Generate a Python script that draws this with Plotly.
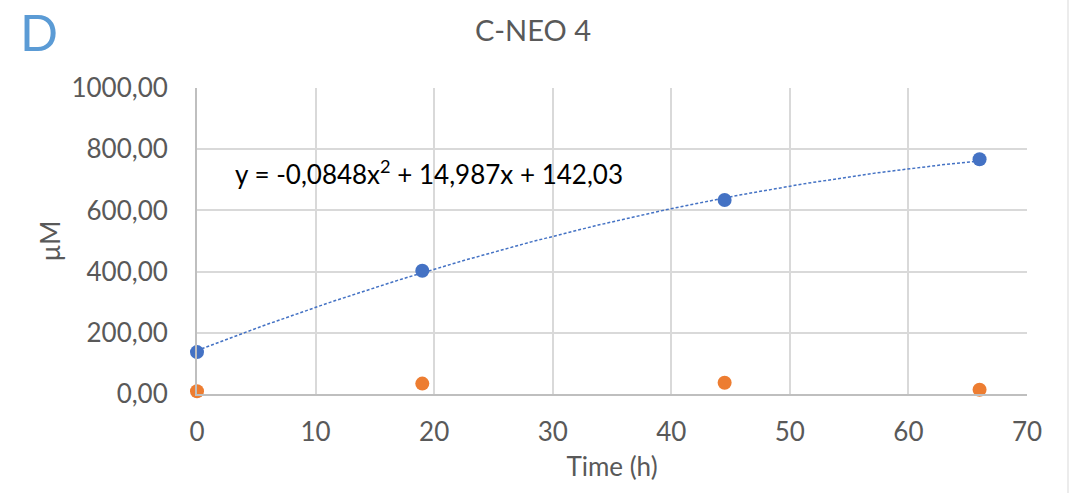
import numpy as np
import plotly.graph_objects as go

# Sampling times (h)
time_h = [0, 19, 44.5, 66]
# Concentrations (µM)
series_blue = [137, 403, 634, 767]
series_orange = [9, 34, 37, 14]

# Quadratic trendline fitted to the blue series
trend_a, trend_b, trend_c = -0.0848, 14.987, 142.03
trend_label = "y = -0,0848x<sup>2</sup> + 14,987x + 142,03"

x_ticks = [0, 10, 20, 30, 40, 50, 60, 70]
y_ticks = [0, 200, 400, 600, 800, 1000]

FONT = "Lato"
GREY_TXT = "#595959"
GRID = "#D9D9D9"

# plot-area geometry in pixels (for placing the panel letter and border)
W, H = 1071, 493
ML, MR, MT, MB = 197, 44, 88, 99
PW, PH = W - ML - MR, H - MT - MB

tx = np.linspace(min(time_h), max(time_h), 200)
ty = trend_a * tx**2 + trend_b * tx + trend_c

fig = go.Figure()
fig.add_trace(go.Scatter(
    x=tx, y=ty, mode="lines",
    line=dict(color="#4472C4", width=1.5, dash="3px,2px"),
    hoverinfo="skip", showlegend=False,
))
fig.add_trace(go.Scatter(
    x=time_h, y=series_blue, mode="markers",
    marker=dict(color="#4472C4", size=14),
    showlegend=False, cliponaxis=False,
))
fig.add_trace(go.Scatter(
    x=time_h, y=series_orange, mode="markers",
    marker=dict(color="#ED7D31", size=14),
    showlegend=False, cliponaxis=False,
))

fig.update_layout(
    width=W, height=H,
    margin=dict(l=ML, r=MR, t=MT, b=MB),
    paper_bgcolor="white", plot_bgcolor="white",
    separators=", ",
    font=dict(family=FONT, color=GREY_TXT, size=26),
    title=dict(
        text="C-NEO 4", x=533 / W, xref="container", xanchor="center",
        y=1 - 31 / H, yref="container", yanchor="middle",
        font=dict(family=FONT, size=29, color=GREY_TXT),
    ),
    xaxis=dict(
        range=[0, 70], tickvals=x_ticks, showgrid=True, gridcolor=GRID, gridwidth=2,
        zeroline=False, showline=True, linecolor="#BFBFBF", linewidth=2,
        ticks="", ticklabelstandoff=14,
        tickfont=dict(family=FONT, size=26, color=GREY_TXT),
        title=dict(text="Time (h)", standoff=12,
                   font=dict(family=FONT, size=26, color=GREY_TXT)),
    ),
    yaxis=dict(
        range=[0, 1000], tickvals=y_ticks, tickformat=".2f",
        showgrid=True, gridcolor=GRID, gridwidth=2,
        zeroline=False, showline=True, linecolor="#BFBFBF", linewidth=2,
        ticks="", ticklabelstandoff=22,
        tickfont=dict(family=FONT, size=26, color=GREY_TXT),
        title=dict(text="µM", standoff=3,
                   font=dict(family=FONT, size=26, color=GREY_TXT)),
    ),
    annotations=[
        dict(text="D", x=(18 - ML) / PW, y=(H - MB - 0.5) / PH, xref="paper", yref="paper",
             xanchor="left", yanchor="top", showarrow=False,
             font=dict(family=FONT, size=50, color="#5B9BD5")),
        dict(text=trend_label, x=3.0, y=725, xref="x", yref="y",
             xanchor="left", yanchor="middle", showarrow=False,
             font=dict(family=FONT, size=26, color="#000000")),
    ],
    shapes=[
        dict(type="line", xref="paper", yref="paper",
             x0=(1068 - ML) / PW, x1=(1068 - ML) / PW, y0=-MB / PH, y1=1 + MT / PH,
             line=dict(color=GRID, width=1)),
    ],
)

fig.write_html("out.html")
